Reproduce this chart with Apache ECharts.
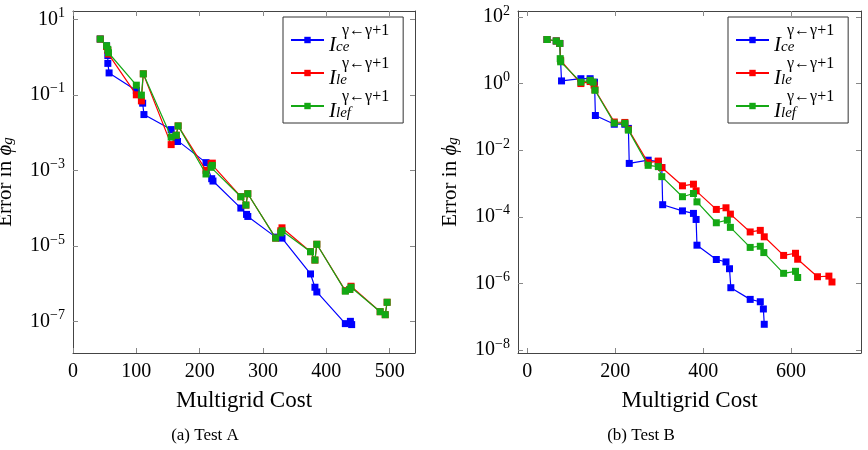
<!DOCTYPE html>
<html>
<head>
<meta charset="utf-8">
<script src="https://cdn.jsdelivr.net/npm/echarts@6/dist/echarts.min.js"></script>
<style>
html, body { margin: 0; padding: 0; background: #fff; }
#main { width: 868px; height: 450px; }
</style>
</head>
<body>
<div id="main"></div>
<script>
// Test A
var costA_ce  = [43, 53, 55, 55, 57, 100, 110, 112, 155, 163, 165, 210, 219, 221, 265, 274, 276, 320, 330, 375, 382, 385, 430, 438, 440];
var errA_ce   = [3.0, 2.0, 1.1, 0.68, 0.38, 0.13, 0.06, 0.03, 0.012, 0.0065, 0.0058, 0.0016, 6e-4, 5.2e-4, 1e-4, 6.8e-5, 6e-5, 1.7e-5, 1.6e-5, 1.8e-6, 8e-7, 6e-7, 8.7e-8, 1.0e-7, 8.2e-8];
var costA_le  = [43, 53, 55, 56, 100, 108, 111, 155, 163, 166, 210, 218, 220, 265, 273, 276, 320, 328, 330, 375, 382, 385, 430, 437, 439, 485, 493, 496];
var errA_le   = [3.0, 1.9, 1.5, 1.2, 0.10, 0.069, 0.36, 0.0048, 0.0085, 0.015, 1.0e-3, 1.5e-3, 1.55e-3, 2e-4, 1.2e-4, 2.4e-4, 1.6e-5, 2.5e-5, 3e-5, 7e-6, 4.2e-6, 1.1e-5, 6.5e-7, 7e-7, 8.5e-7, 1.8e-7, 1.5e-7, 3.2e-7];
var costA_lef = [43, 53, 55, 56, 100, 108, 111, 155, 163, 166, 210, 218, 220, 265, 273, 276, 320, 328, 330, 375, 382, 385, 430, 437, 439, 485, 493, 496];
var errA_lef  = [3.0, 2.0, 1.6, 1.3, 0.18, 0.098, 0.36, 0.0076, 0.0085, 0.015, 8e-4, 1.2e-3, 1.35e-3, 2e-4, 1.2e-4, 2.4e-4, 1.6e-5, 2.2e-5, 2.5e-5, 7e-6, 4.2e-6, 1.1e-5, 6.3e-7, 7e-7, 8e-7, 1.8e-7, 1.5e-7, 3.2e-7];

// Test B
var costB_ce  = [45, 66, 74, 78, 122, 143, 153, 155, 198, 222, 230, 232, 275, 298, 306, 308, 353, 378, 384, 386, 430, 452, 460, 463, 507, 530, 537, 539];
var errB_ce   = [21, 19, 16, 1.2, 1.4, 1.4, 1.1, 0.11, 0.06, 0.06, 0.045, 0.004, 0.005, 0.0045, 0.003, 2.3e-4, 1.5e-4, 1.26e-4, 8.3e-5, 1.4e-5, 5.2e-6, 4.4e-6, 2.75e-6, 7.4e-7, 3.3e-7, 2.8e-7, 1.7e-7, 5.9e-8];
var costB_le  = [45, 66, 74, 76, 122, 143, 152, 154, 198, 222, 230, 275, 298, 306, 353, 378, 384, 430, 452, 462, 507, 530, 539, 583, 610, 615, 660, 686, 693];
var errB_le   = [21, 19, 16, 5.0, 1.0, 1.15, 0.9, 0.65, 0.07, 0.068, 0.042, 0.0042, 0.0047, 0.003, 8.5e-4, 9.5e-4, 6e-4, 1.66e-4, 1.86e-4, 1.2e-4, 3.5e-5, 3.9e-5, 2.5e-5, 6.9e-6, 8e-6, 5.3e-6, 1.58e-6, 1.65e-6, 1.1e-6];
var costB_lef = [45, 66, 74, 75, 76, 122, 143, 150, 154, 198, 222, 230, 275, 298, 306, 353, 378, 386, 430, 455, 462, 507, 530, 538, 583, 610, 615];
var errB_lef  = [21, 19, 16, 5.6, 4.5, 1.1, 1.25, 1.1, 0.63, 0.065, 0.064, 0.04, 0.0035, 0.0032, 0.0016, 4e-4, 5e-4, 2.8e-4, 6.6e-5, 7.9e-5, 4.8e-5, 1.2e-5, 1.3e-5, 8.4e-6, 2.0e-6, 2.3e-6, 1.5e-6];

// ticks
var ticksA_x = [0, 100, 200, 300, 400, 500];
var ticksA_y = [1e-7, 1e-5, 1e-3, 1e-1, 10];
var ticksB_x = [0, 200, 400, 600];
var ticksB_y = [1e-8, 1e-6, 1e-4, 1e-2, 1, 100];

var names  = ['ce', 'le', 'lef'];
var colors = ['#0000ff', '#ff0000', '#14a814'];

var serif = '"Liberation Serif", "DejaVu Serif", serif';

function pairs(xs, ys) {
  return xs.map(function (x, i) { return [x, ys[i]]; });
}

function powLabel(v) {
  var e = Math.round(Math.log10(v));
  return '{b|10}{s|' + (e < 0 ? '\u2212' + (-e) : e) + '}';
}
var powRich = {
  b: { fontSize: 20, fontFamily: serif, color: '#000' },
  s: { fontSize: 14, fontFamily: serif, color: '#000', padding: [0, 0, 12, 0] }
};

var yName = '{t|Error in }{i|\u03d5}{g|g}';
var yNameStyle = {
  rich: {
    t: { fontSize: 21, fontFamily: serif, color: '#000' },
    i: { fontSize: 21, fontFamily: serif, fontStyle: 'italic', color: '#000' },
    g: { fontSize: 15, fontFamily: serif, fontStyle: 'italic', color: '#000', padding: [6, 0, 0, 0] }
  }
};

function xAxes(grid, min, max, ticks) {
  var line = { onZero: false, lineStyle: { color: '#444', width: 1 } };
  var tick = { inside: true, length: 5, customValues: ticks, lineStyle: { color: '#888' } };
  return [
    {
      gridIndex: grid, type: 'value', min: min, max: max, position: 'bottom',
      axisLine: line, axisTick: tick, splitLine: { show: false },
      axisLabel: { customValues: ticks, fontSize: 20, fontFamily: serif, color: '#000', margin: 9 },
      name: 'Multigrid Cost', nameLocation: 'middle', nameGap: 36,
      nameTextStyle: { fontSize: 23, fontFamily: serif, color: '#000' }
    },
    {
      gridIndex: grid, type: 'value', min: min, max: max, position: 'top',
      axisLine: line, axisTick: tick, splitLine: { show: false },
      axisLabel: { show: false }
    }
  ];
}

function yAxes(grid, min, max, ticks) {
  var line = { show: true, onZero: false, lineStyle: { color: '#444', width: 1 } };
  var tick = { show: true, inside: true, length: 5, customValues: ticks, lineStyle: { color: '#888' } };
  return [
    {
      gridIndex: grid, type: 'log', logBase: 10, min: min, max: max, position: 'left',
      axisLine: line, axisTick: tick, splitLine: { show: false },
      axisLabel: { customValues: ticks, formatter: powLabel, rich: powRich, margin: 8 },
      name: yName, nameLocation: 'middle', nameRotate: 90, nameGap: 57,
      nameTextStyle: yNameStyle
    },
    {
      gridIndex: grid, type: 'log', logBase: 10, min: min, max: max, position: 'right',
      axisLine: line, axisTick: tick, splitLine: { show: false },
      axisLabel: { show: false }
    }
  ];
}

function legendLabel(n) {
  return '{p|\u03b3\u2190\u03b3+1}\n{I|I}{sub|' + n + '}';
}
var legendRich = {
  p: { fontSize: 16, fontFamily: serif, color: '#000', lineHeight: 11, padding: [0, 0, 0, 13] },
  I: { fontSize: 21, fontFamily: serif, fontStyle: 'italic', color: '#000', lineHeight: 18 },
  sub: { fontSize: 15, fontFamily: serif, fontStyle: 'italic', color: '#000', lineHeight: 18, verticalAlign: 'bottom' }
};
function legend(left) {
  return {
    left: left, top: 17, orient: 'vertical', itemGap: 0, itemWidth: 33, itemHeight: 8,
    padding: [6, 14, 1, 7], backgroundColor: '#fff', borderColor: '#333', borderWidth: 1,
    data: names, formatter: legendLabel, textStyle: { rich: legendRich }
  };
}

var series = [];
var setsA = [[costA_ce, errA_ce], [costA_le, errA_le], [costA_lef, errA_lef]];
var setsB = [[costB_ce, errB_ce], [costB_le, errB_le], [costB_lef, errB_lef]];
[setsA, setsB].forEach(function (sets, g) {
  sets.forEach(function (s, i) {
    series.push({
      type: 'line', name: names[i], xAxisIndex: g * 2, yAxisIndex: g * 2,
      data: pairs(s[0], s[1]), symbol: 'rect', symbolSize: 7,
      color: colors[i], lineStyle: { width: 1.2 }, z: 2 + i
    });
  });
});

var myChart = echarts.init(document.getElementById('main'));
var option = {
  animation: false,
  backgroundColor: '#fff',
  grid: [
    { left: 73, top: 11, width: 342, height: 342, outerBoundsMode: 'none' },
    { left: 518, top: 11, width: 343, height: 342, outerBoundsMode: 'none' }
  ],
  xAxis: xAxes(0, 0, 540, ticksA_x).concat(xAxes(1, -21, 759, ticksB_x)),
  yAxis: yAxes(0, 1.45e-8, 16.6, ticksA_y).concat(yAxes(1, 8.1e-9, 151, ticksB_y)),
  legend: [legend(283), legend(728)],
  graphic: [
    { type: 'text', x: 205, y: 436, style: { text: '(a) Test A', font: '17px "Liberation Serif"', fill: '#000', align: 'center', verticalAlign: 'middle', textAlign: 'center', textVerticalAlign: 'middle' } },
    { type: 'text', x: 641, y: 436, style: { text: '(b) Test B', font: '17px "Liberation Serif"', fill: '#000', align: 'center', verticalAlign: 'middle', textAlign: 'center', textVerticalAlign: 'middle' } }
  ],
  series: series
};
myChart.setOption(option);
window.addEventListener('resize', function () {
  myChart.resize();
});
</script>
</body>
</html>
